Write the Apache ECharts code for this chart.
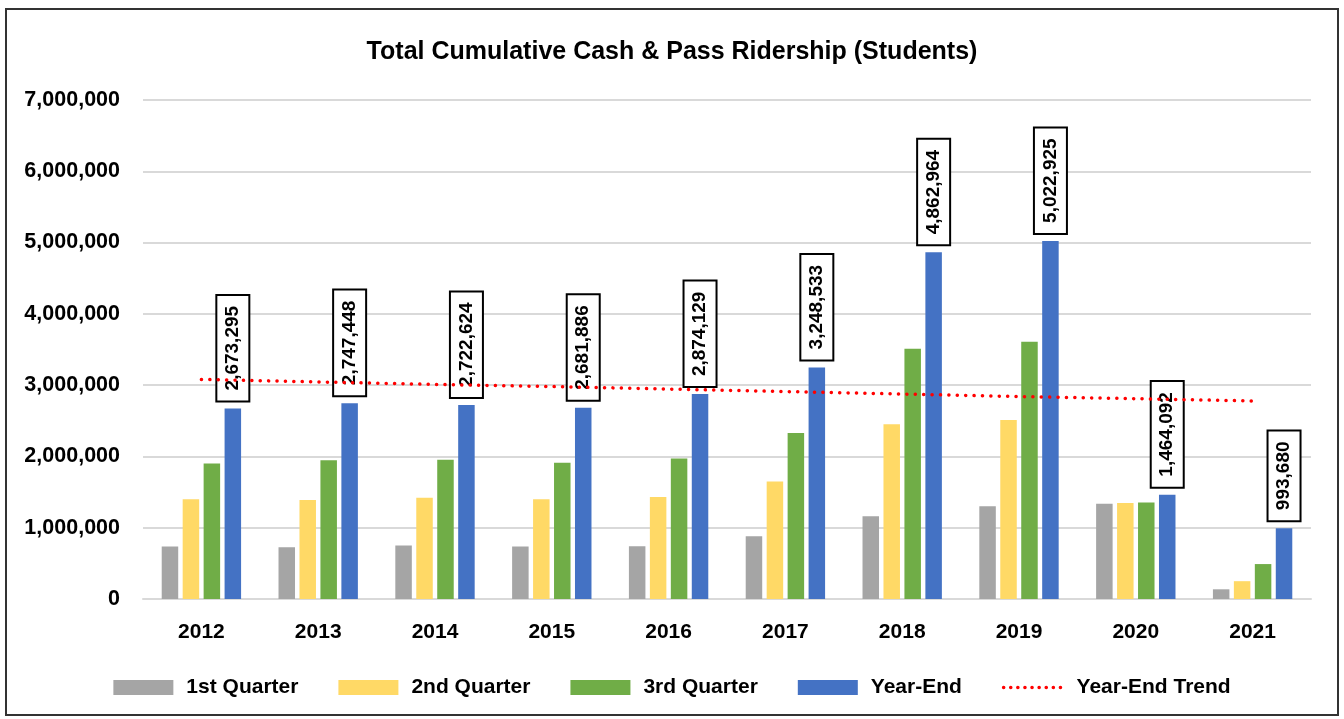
<!DOCTYPE html>
<html>
<head>
<meta charset="utf-8">
<title>Total Cumulative Cash & Pass Ridership (Students)</title>
<script src="https://cdn.jsdelivr.net/npm/echarts@6/dist/echarts.min.js"></script>
<style>
  html, body { margin: 0; padding: 0; background: #fff; }
  #frame { position: absolute; left: 5px; top: 8px; width: 1334px; height: 708px; border: 2px solid #333; box-sizing: border-box; }
  #main { position: absolute; left: 0; top: 0; width: 1344px; height: 719px; }
</style>
</head>
<body>
<div id="frame"></div>
<div id="main"></div>
<script>
  // data
  var years = ['2012', '2013', '2014', '2015', '2016', '2017', '2018', '2019', '2020', '2021'];
  var q1 = [735000, 725000, 750000, 735000, 740000, 880000, 1160000, 1300000, 1335000, 136000];
  var q2 = [1400000, 1390000, 1420000, 1400000, 1430000, 1650000, 2450000, 2510000, 1345000, 250000];
  var q3 = [1900000, 1945000, 1955000, 1910000, 1970000, 2330000, 3510000, 3610000, 1355000, 490000];
  var yearEnd = [2673295, 2747448, 2722624, 2681886, 2874129, 3248533, 4862964, 5022925, 1464092, 993680];
  var trend = [3080000, 3045000, 3010000, 2980000, 2945000, 2910000, 2875000, 2840000, 2810000, 2778000];

  var FONT = "'Liberation Sans', Arial, sans-serif";

  var chart = echarts.init(document.getElementById('main'));

  function fmt(v) {
    return Number(v).toLocaleString('en-US');
  }

  function bar(name, data, color) {
    return {
      name: name,
      type: 'bar',
      data: data,
      barWidth: 16.5,
      barGap: '27%',
      itemStyle: { color: color },
      z: 2
    };
  }

  var yeSeries = bar('Year-End', yearEnd, '#4472c4');
  yeSeries.label = {
    show: true,
    position: 'top',
    rotate: 90,
    align: 'left',
    verticalAlign: 'middle',
    distance: 8,
    formatter: function (p) { return fmt(p.value); },
    fontFamily: FONT,
    fontWeight: 'bold',
    fontSize: 19,
    color: '#000',
    backgroundColor: '#fff',
    borderColor: '#000',
    borderWidth: 2,
    padding: [7, 10, 5, 10]
  };

  var option = {
    animation: false,
    title: {
      text: 'Total Cumulative Cash & Pass Ridership (Students)',
      left: 'center',
      top: 35,
      textStyle: { fontFamily: FONT, fontWeight: 'bold', fontSize: 25, color: '#000' }
    },
    legend: {
      bottom: 16,
      left: 'center',
      itemWidth: 60,
      itemHeight: 15,
      itemGap: 40,
      textStyle: { fontFamily: FONT, fontWeight: 'bold', fontSize: 21, color: '#000', padding: [0, 0, 0, 8] },
      data: [
        { name: '1st Quarter', icon: 'rect' },
        { name: '2nd Quarter', icon: 'rect' },
        { name: '3rd Quarter', icon: 'rect' },
        { name: 'Year-End', icon: 'rect' },
        { name: 'Year-End Trend', lineStyle: { width: 3.5, type: [0.1, 7], cap: 'round' } }
      ]
    },
    grid: { left: 143, right: 33, top: 100, bottom: 120, containLabel: false },
    xAxis: {
      type: 'category',
      data: years,
      axisTick: { show: false },
      axisLine: { lineStyle: { color: '#d9d9d9', width: 2 } },
      axisLabel: { fontFamily: FONT, fontWeight: 'bold', fontSize: 21, color: '#000', margin: 23 }
    },
    yAxis: {
      type: 'value',
      min: 0,
      max: 7000000,
      interval: 1000000,
      axisLine: { show: false },
      axisTick: { show: false },
      splitLine: { lineStyle: { color: '#d9d9d9', width: 2 } },
      axisLabel: {
        fontFamily: FONT, fontWeight: 'bold', fontSize: 21.5, color: '#000', margin: 23,
        formatter: function (v) { return fmt(v); }
      }
    },
    series: [
      bar('1st Quarter', q1, '#a5a5a5'),
      bar('2nd Quarter', q2, '#ffd966'),
      bar('3rd Quarter', q3, '#70ad47'),
      yeSeries,
      {
        name: 'Year-End Trend',
        type: 'line',
        data: trend,
        symbol: 'none',
        z: 10,
        itemStyle: { color: 'transparent' },
        lineStyle: { color: '#ff0000', width: 3.5, type: [0.1, 8.3], cap: 'round' }
      }
    ]
  };

  chart.setOption(option);
</script>
</body>
</html>
